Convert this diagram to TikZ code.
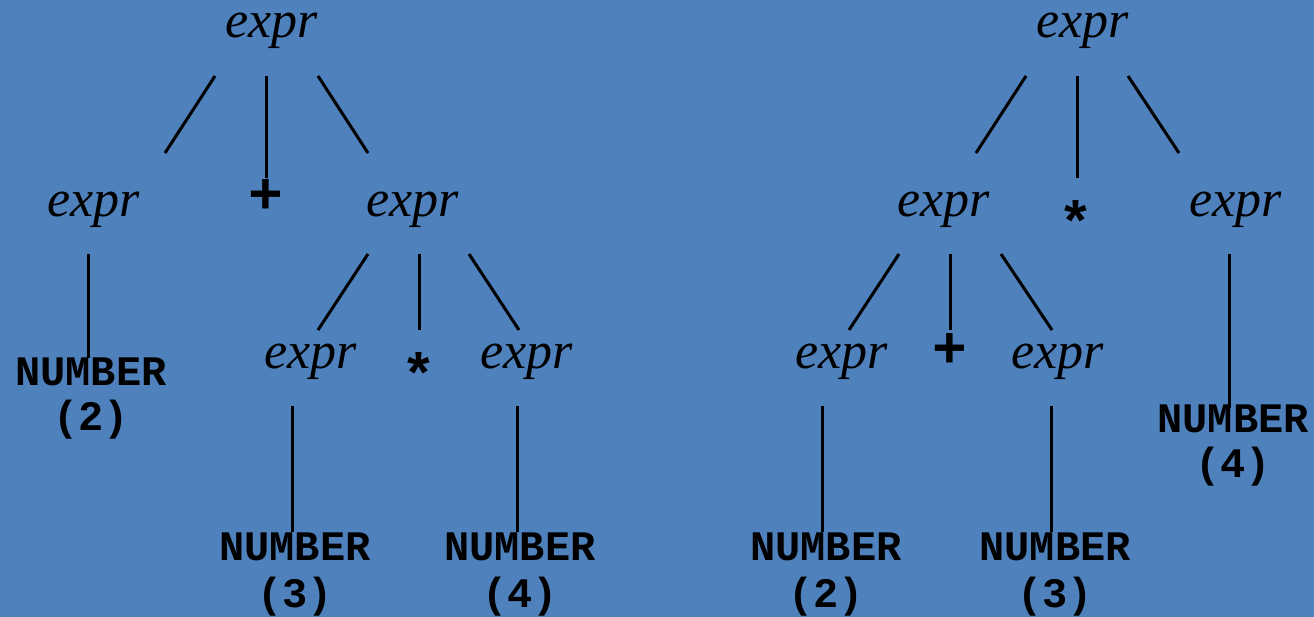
\documentclass[tikz,border=0pt]{standalone}
\usepackage{fontspec}
\setmainfont{Liberation Serif}
\newfontfamily\courfont{Liberation Mono}
\usetikzlibrary{calc}
\definecolor{bg}{HTML}{4F81BD}
\tikzset{
  nt/.style={inner sep=0pt, anchor=base, text height=26pt, text depth=10pt, font=\fontsize{52}{56}\selectfont\itshape},
  tok/.style={inner sep=0pt, anchor=base, font=\fontsize{42}{46}\selectfont\courfont\bfseries},
  op/.style={inner sep=0pt, anchor=center, font=\fontsize{58}{60}\selectfont\courfont\bfseries},
  edge/.style={line width=3pt, black}
}
\begin{document}
\begin{tikzpicture}[x=1pt,y=-1pt]
\fill[bg] (0,0) rectangle (1314,617);
\useasboundingbox (0,0) rectangle (1314,617);
% ---------- left tree ----------
\node[nt] (L0) at (272,38) {expr};
\node[nt] (L1) at (94,217) {expr};
\node[op] (Lp) at (266,196) {+};
\node[nt] (L2) at (413,217) {expr};
\node[tok] (N1) at (91,385) {NUMBER};
\node[tok] (V1) at (91,430) {(2)};
\node[nt] (L21) at (311,368) {expr};
\node[op] (Ls) at (419,374) {*};
\node[nt] (L22) at (527,368) {expr};
\node[tok] (N3) at (295,560) {NUMBER};
\node[tok] (V3) at (295,607) {(3)};
\node[tok] (N4) at (520,560) {NUMBER};
\node[tok] (V4) at (520,607) {(4)};
\draw[edge] ($(L0.base)+(-57,38)$) -- ($(L1.base)+(71,-64)$);
\draw[edge] ($(L0.base)+(-6,38)$) -- ($(Lp.center)+(0,-18)$);
\draw[edge] ($(L0.base)+(46,38)$) -- ($(L2.base)+(-45,-64)$);
\draw[edge] ($(L1.base)+(-6,37)$) -- ($(N1.base)+(-3,-27)$);
\draw[edge] ($(L2.base)+(-45,37)$) -- ($(L21.base)+(7,-38)$);
\draw[edge] ($(L2.base)+(6,37)$) -- ($(Ls.center)+(0,-44)$);
\draw[edge] ($(L2.base)+(56,37)$) -- ($(L22.base)+(-8,-38)$);
\draw[edge] ($(L21.base)+(-19,38)$) -- ($(N3.base)+(-3,-28)$);
\draw[edge] ($(L22.base)+(-10,38)$) -- ($(N4.base)+(-3,-28)$);
% ---------- right tree ----------
\node[nt] (R0) at (1083,38) {expr};
\node[nt] (R1) at (944,217) {expr};
\node[op] (Rs) at (1076,222) {*};
\node[nt] (R2) at (1236,217) {expr};
\node[nt] (R11) at (842,368) {expr};
\node[op] (Rp) at (950,350) {+};
\node[nt] (R12) at (1058,368) {expr};
\node[tok] (M2) at (826,560) {NUMBER};
\node[tok] (W2) at (826,607) {(2)};
\node[tok] (M3) at (1055,560) {NUMBER};
\node[tok] (W3) at (1055,607) {(3)};
\node[tok] (M4) at (1233,432) {NUMBER};
\node[tok] (W4) at (1233,477) {(4)};
\draw[edge] ($(R0.base)+(-57,38)$) -- ($(R1.base)+(32,-64)$);
\draw[edge] ($(R0.base)+(-6,38)$) -- ($(Rs.center)+(1,-44)$);
\draw[edge] ($(R0.base)+(45,38)$) -- ($(R2.base)+(-57,-64)$);
\draw[edge] ($(R1.base)+(-45,37)$) -- ($(R11.base)+(7,-38)$);
\draw[edge] ($(R1.base)+(6,37)$) -- ($(Rp.center)+(0,-20)$);
\draw[edge] ($(R1.base)+(57,37)$) -- ($(R12.base)+(-6,-38)$);
\draw[edge] ($(R11.base)+(-20,38)$) -- ($(M2.base)+(-4,-28)$);
\draw[edge] ($(R12.base)+(-7,38)$) -- ($(M3.base)+(-4,-28)$);
\draw[edge] ($(R2.base)+(-7,37)$) -- ($(M4.base)+(-4,-24)$);
\end{tikzpicture}
\end{document}
